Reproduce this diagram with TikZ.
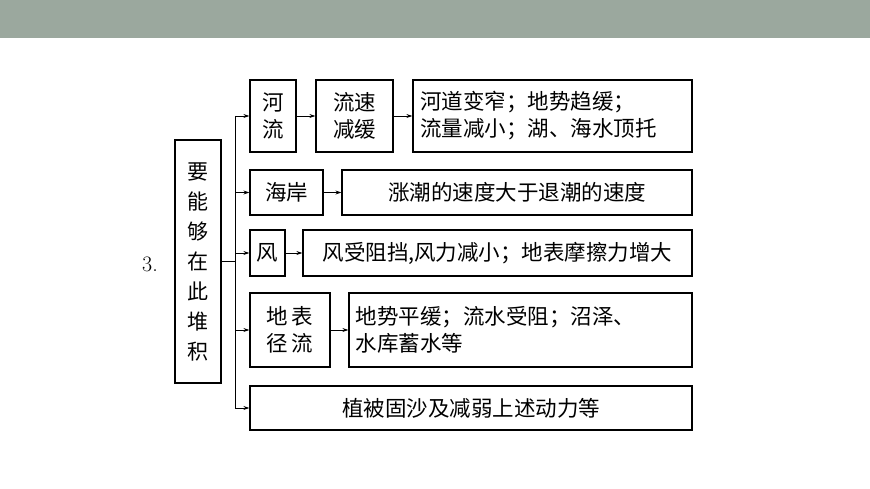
\documentclass[tikz,border=0pt]{standalone}
\usepackage{fontspec}
\newfontfamily\cjk{Noto Sans CJK SC}
\usetikzlibrary{arrows.meta}
\definecolor{barc}{RGB}{155,168,158}
\begin{document}
\begin{tikzpicture}[x=1pt,y=-1pt,
  bx/.style={draw,line width=1.2pt,font=\cjk\fontsize{21.5}{27}\selectfont,align=left,inner sep=0pt},
  ar/.style={-{Stealth[length=6pt,width=4pt]},line width=0.8pt}]
\useasboundingbox (0,0) rectangle (870,489);
\fill[barc] (0,0) rectangle (870,38);
\node[font=\fontsize{22}{24}\selectfont] (n3) at (150,264) {3.};
\node[bx,minimum width=46pt,minimum height=243pt,align=center,font=\cjk\fontsize{21}{30}\selectfont] (L) at (198,261.5) {要\\能\\够\\在\\此\\堆\\积};
\node[bx,minimum width=46pt,minimum height=72pt,align=center] (a1) at (273,116) {河\\流};
\node[bx,minimum width=77pt,minimum height=72pt,align=center] (a2) at (354.5,116) {流速\\减缓};
\node[bx,minimum width=279pt,minimum height=72pt,text width=265pt] (a3) at (552.5,116) {河道变窄；地势趋缓；\\流量减小；湖、海水顶托};
\node[bx,minimum width=73pt,minimum height=45pt] (b1) at (286.5,192.5) {海岸};
\node[bx,minimum width=350pt,minimum height=45pt] (b2) at (517,192.5) {涨潮的速度大于退潮的速度};
\node[bx,minimum width=35pt,minimum height=46pt] (c1) at (267.5,253) {风};
\node[bx,minimum width=389pt,minimum height=46pt] (c2) at (497.5,253) {风受阻挡,风力减小；地表摩擦力增大};
\node[bx,minimum width=80pt,minimum height=74pt,align=center] (d1) at (290,330) {地\,表\\径\,流};
\node[bx,minimum width=343pt,minimum height=74pt,text width=330pt] (d2) at (520.5,330) {地势平缓；流水受阻；沼泽、\\水库蓄水等};
\node[bx,minimum width=442pt,minimum height=44pt] (e1) at (471,408) {植被固沙及减弱上述动力等};
\coordinate (t1) at (235,116);
\coordinate (t5) at (235,408);
\draw[line width=0.8pt] (t1) -- (t5);
\draw[line width=0.8pt] (L.east) -- (L.east -| t1);
\foreach \n in {a1,b1,c1,d1,e1} \draw[ar] (\n.west -| t1) -- (\n.west);
\draw[ar] (a1) -- (a2);
\draw[ar] (a2) -- (a3);
\draw[ar] (b1) -- (b2);
\draw[ar] (c1) -- (c2);
\draw[ar] (d1) -- (d2);
\end{tikzpicture}
\end{document}
